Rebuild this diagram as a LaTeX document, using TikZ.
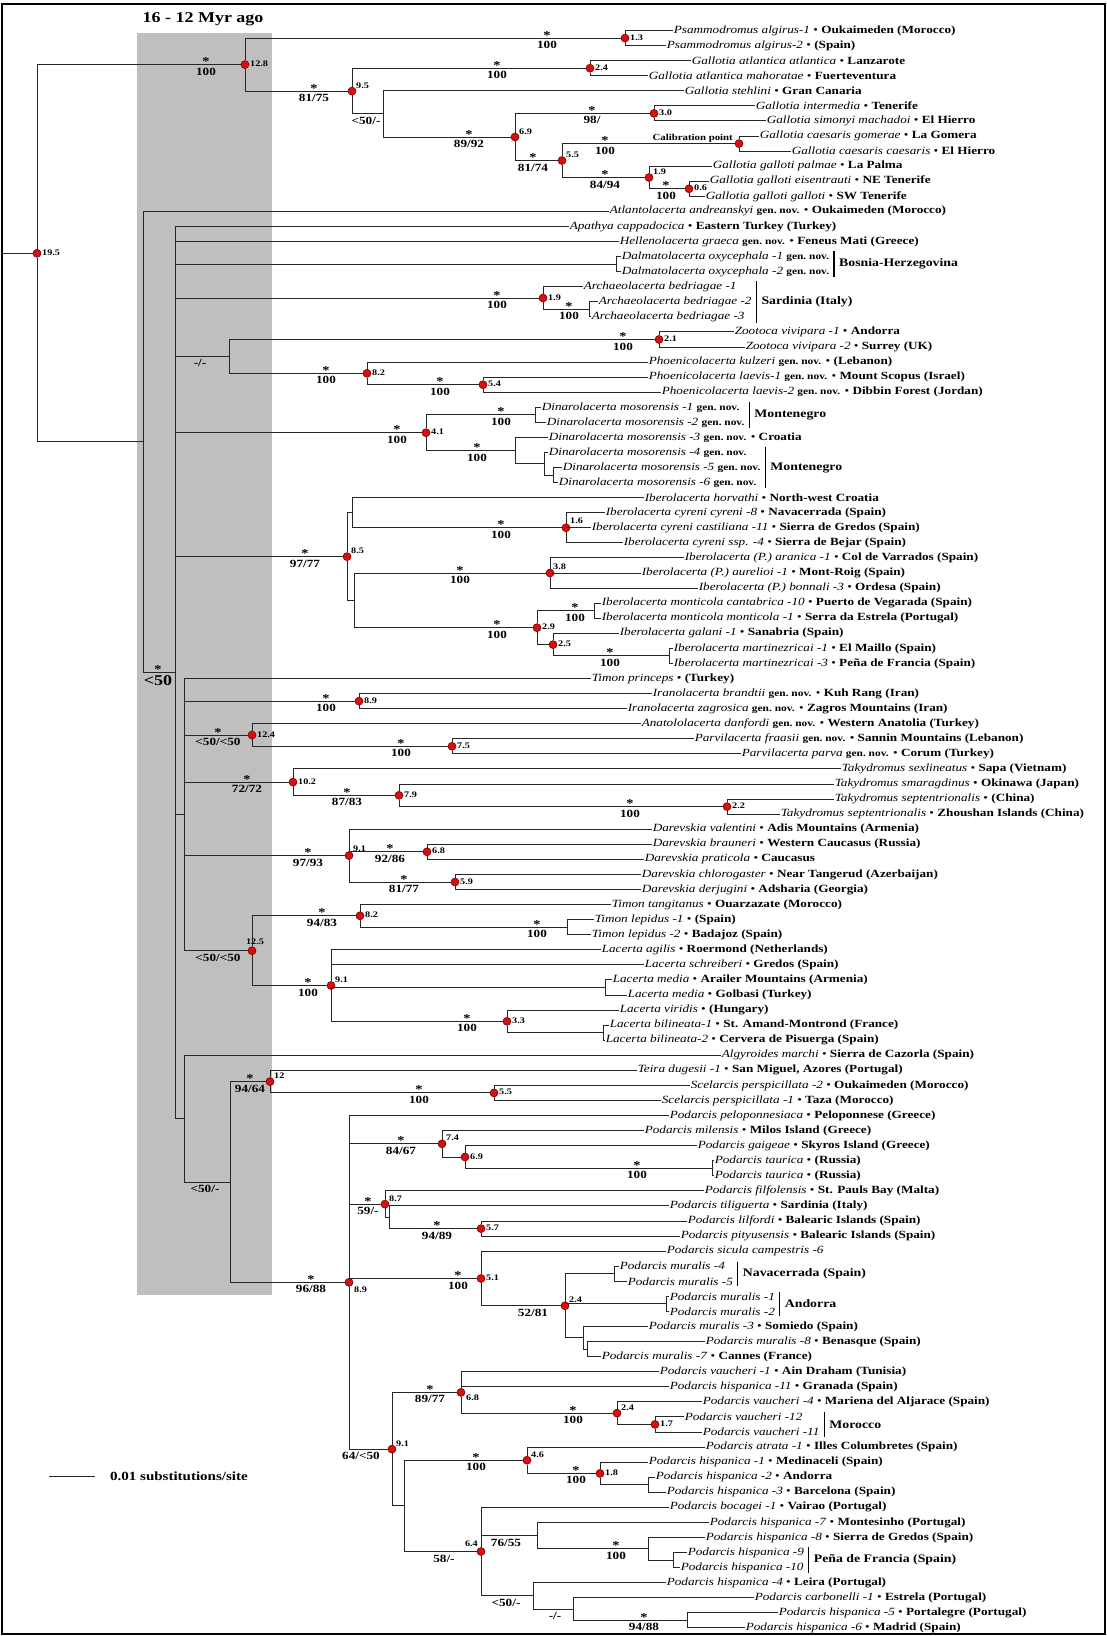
\documentclass[tikz,border=0pt]{standalone}
\usepackage{fontspec}
\setmainfont{Liberation Serif}[FakeStretch=1.2]
\usetikzlibrary{calc}

\newcommand{\tx}[1]{\textit{#1}}
\newcommand{\site}[1]{\textbf{#1}}
\newcommand{\bul}{\textbullet}
\newcommand{\gn}{{\bfseries\fontsize{9.5}{9.5}\selectfont gen.\ nov.}}
% support values: * above the branch, bootstrap below
\newcommand{\bsup}[5]{%
  \node[supa] (#1u) at (#2,#3+1) {#4};
  \node[supb] (#1d) at (#2,#3+3) {#5};}
% node age next to the red dot
\newcommand{\age}[4][5,2]{\node[age] (#2) at ($(#3)+(#1)$) {#4};}
% location bracket for a group of tips
\newcommand{\grp}[5]{%
  \coordinate (#1t) at ($(#2.east |- #3.north)+(4,0)$);
  \coordinate (#1b) at (#1t |- #4.south);
  \draw[grpbar] (#1t) -- (#1b);
  \node[locn] (#1) at ($(#1t)!0.5!(#1b)+(5,0)$) {#5};}

\tikzset{
  br/.style={draw=black!85, line width=1pt},
  dot/.style={circle, inner sep=0pt, minimum size=8pt, fill={rgb,255:red,214;green,16;blue,16}, draw={rgb,255:red,120;green,0;blue,0}, line width=0.6pt},
  leaf/.style={anchor=west, inner sep=0.6pt, font=\fontsize{11}{11}\selectfont},
  age/.style={anchor=base west, inner sep=0pt, font=\bfseries\fontsize{8.5}{8.5}\selectfont},
  supa/.style={anchor=base, inner sep=0pt, font=\bfseries\fontsize{12}{12}\selectfont},
  supb/.style={anchor=north, inner sep=0pt, font=\bfseries\fontsize{11}{11}\selectfont},
  locn/.style={anchor=west, inner sep=0pt, font=\bfseries\fontsize{11.5}{11.5}\selectfont},
  grpbar/.style={draw=black, line width=1.2pt},
}

\begin{document}
\begin{tikzpicture}[x=1pt,y=1pt,yscale=-1,xscale=1]
\useasboundingbox (0,0) rectangle (1107,1636);

%Shaded band 16 - 12 Myr
\fill[black!25] (137,33) rectangle (272,1295);
\node[inner sep=0pt, font=\bfseries\fontsize{15}{15}\selectfont] (band) at (203,19) {16 - 12 Myr ago};

%Frame
\draw[line width=2pt] (2,4) rectangle (1105,1634);

%Internal nodes: Psammodromus and Gallotia
\coordinate (rin) at (2,253.3);
\node[dot] (root) at (37,253.3) {};
\node[dot] (n128) at (245,64.6) {};
\node[dot] (psam) at (625,38.1) {};
\node[dot] (gall) at (352,91.1) {};
\node[dot] (atl) at (590,68.2) {};
\coordinate (g50) at (383,113.9);
\node[dot] (n69) at (515,137.0) {};
\node[dot] (n30) at (654,113.4) {};
\node[dot] (n55) at (562,160.5) {};
\node[dot] (cal) at (739,143.6) {};
\node[dot] (n19g) at (649,177.5) {};
\node[dot] (n06) at (689,188.8) {};

%Internal nodes: Atlantolacerta to Iberolacerta
\coordinate (X) at (143,441.9);
\coordinate (A) at (175,672.5);
\coordinate (dalm) at (616,264.1);
\node[dot] (arch) at (543,298.0) {};
\coordinate (arch2) at (589,309.3);
\coordinate (dash) at (229,356.4);
\node[dot] (zoot) at (659,339.5) {};
\node[dot] (n82) at (367,373.3) {};
\node[dot] (n54) at (483,384.7) {};
\node[dot] (n41) at (426,432.7) {};
\coordinate (dina12) at (535,414.8);
\coordinate (dina3) at (515,450.6);
\coordinate (dina46) at (544,463.8);
\coordinate (dina56) at (553,475.1);
\node[dot] (n85) at (347,556.6) {};
\coordinate (ibU) at (352,512.8);
\node[dot] (n16) at (566,527.8) {};
\coordinate (ibL) at (354,600.4);
\node[dot] (n38) at (550,573.0) {};
\node[dot] (n29) at (537,627.7) {};
\coordinate (mont) at (594,610.7);
\node[dot] (n25) at (553,644.6) {};
\coordinate (mart) at (669,655.9);

%Internal nodes: Timon to Lacerta
\coordinate (C) at (184,814.6);
\node[dot] (iran) at (359,701.1) {};
\node[dot] (n124) at (252,735.0) {};
\node[dot] (n75) at (452,746.3) {};
\node[dot] (n102) at (293,782.1) {};
\node[dot] (n79) at (399,795.3) {};
\node[dot] (n22) at (727,806.6) {};
\node[dot] (dar) at (349,855.6) {};
\node[dot] (n68) at (427,851.8) {};
\node[dot] (n59) at (455,882.0) {};
\node[dot] (n125) at (252,950.7) {};
\node[dot] (tim) at (360,915.8) {};
\coordinate (lep) at (567,927.2);
\node[dot] (lac) at (331,985.5) {};
\coordinate (med) at (605,987.5);
\node[dot] (n33) at (507,1021.3) {};
\coordinate (bil) at (603,1032.7);

%Internal nodes: Algyroides to Podarcis
\coordinate (D) at (184,1118.6);
\coordinate (E) at (230,1182.0);
\node[dot] (n12) at (270,1081.6) {};
\node[dot] (n55s) at (494,1092.9) {};
\node[dot] (n89) at (349,1282.3) {};
\node[dot] (n74) at (442,1143.8) {};
\node[dot] (n69p) at (465,1157.0) {};
\coordinate (taur) at (712,1168.3);
\node[dot] (n87) at (385,1204.1) {};
\coordinate (Q) at (389,1217.2);
\node[dot] (n57) at (481,1228.6) {};
\node[dot] (n51) at (481,1278.5) {};
\node[dot] (n24m) at (565,1305.8) {};
\coordinate (m45) at (614,1273.8);
\coordinate (m12) at (666,1303.9);
\coordinate (m3) at (583,1337.8);
\coordinate (m87) at (587,1349.0);
\node[dot] (n91p) at (392,1449.1) {};
\node[dot] (n68p) at (461,1392.4) {};
\node[dot] (n24v) at (617,1413.1) {};
\node[dot] (n17) at (655,1424.4) {};
\coordinate (R) at (404,1505.9);
\node[dot] (n46) at (527,1460.2) {};
\node[dot] (n18) at (600,1473.4) {};
\coordinate (h23) at (648,1484.7);
\node[dot] (n64) at (481,1551.5) {};
\coordinate (S) at (537,1535.5);
\coordinate (h8) at (648,1548.7);
\coordinate (h910) at (673,1560.0);
\coordinate (T) at (533,1595.8);
\coordinate (U) at (573,1609.0);
\coordinate (h56) at (687,1620.3);

%Tips
\node[leaf] (l1) at (673,30.5) {\tx{Psammodromus algirus-1} \bul{} \site{Oukaimeden (Morocco)}};
\node[leaf] (l2) at (666,45.6) {\tx{Psammodromus algirus-2} \bul{} \site{(Spain)}};
\node[leaf] (l3) at (691,60.6) {\tx{Gallotia atlantica atlantica} \bul{} \site{Lanzarote}};
\node[leaf] (l4) at (648,75.7) {\tx{Gallotia atlantica mahoratae} \bul{} \site{Fuerteventura}};
\node[leaf] (l5) at (684,90.8) {\tx{Gallotia stehlini} \bul{} \site{Gran Canaria}};
\node[leaf] (l6) at (755,105.9) {\tx{Gallotia intermedia} \bul{} \site{Tenerife}};
\node[leaf] (l7) at (766,120.9) {\tx{Gallotia simonyi machadoi} \bul{} \site{El Hierro}};
\node[leaf] (l8) at (759,136.0) {\tx{Gallotia caesaris gomerae} \bul{} \site{La Gomera}};
\node[leaf] (l9) at (791,151.1) {\tx{Gallotia caesaris caesaris} \bul{} \site{El Hierro}};
\node[leaf] (l10) at (712,166.1) {\tx{Gallotia galloti palmae} \bul{} \site{La Palma}};
\node[leaf] (l11) at (709,181.2) {\tx{Gallotia galloti eisentrauti} \bul{} \site{NE Tenerife}};
\node[leaf] (l12) at (705,196.3) {\tx{Gallotia galloti galloti} \bul{} \site{SW Tenerife}};
\node[leaf] (l13) at (609,211.3) {\tx{Atlantolacerta andreanskyi} \gn{} \bul{} \site{Oukaimeden (Morocco)}};
\node[leaf] (l14) at (569,226.4) {\tx{Apathya cappadocica} \bul{} \site{Eastern Turkey (Turkey)}};
\node[leaf] (l15) at (619,241.5) {\tx{Hellenolacerta graeca} \gn{} \bul{} \site{Feneus Mati (Greece)}};
\node[leaf] (l16) at (621,256.6) {\tx{Dalmatolacerta oxycephala -1} \gn};
\node[leaf] (l17) at (621,271.6) {\tx{Dalmatolacerta oxycephala -2} \gn};
\node[leaf] (l18) at (583,286.7) {\tx{Archaeolacerta bedriagae -1}};
\node[leaf] (l19) at (598,301.8) {\tx{Archaeolacerta bedriagae -2}};
\node[leaf] (l20) at (591,316.8) {\tx{Archaeolacerta bedriagae -3}};
\node[leaf] (l21) at (734,331.9) {\tx{Zootoca vivipara -1} \bul{} \site{Andorra}};
\node[leaf] (l22) at (745,347.0) {\tx{Zootoca vivipara -2} \bul{} \site{Surrey (UK)}};
\node[leaf] (l23) at (648,362.0) {\tx{Phoenicolacerta kulzeri} \gn{} \bul{} \site{(Lebanon)}};
\node[leaf] (l24) at (648,377.1) {\tx{Phoenicolacerta laevis-1} \gn{} \bul{} \site{Mount Scopus (Israel)}};
\node[leaf] (l25) at (661,392.2) {\tx{Phoenicolacerta laevis-2} \gn{} \bul{} \site{Dibbin Forest (Jordan)}};
\node[leaf] (l26) at (541,407.3) {\tx{Dinarolacerta mosorensis -1} \gn};
\node[leaf] (l27) at (546,422.3) {\tx{Dinarolacerta mosorensis -2} \gn};
\node[leaf] (l28) at (548,437.4) {\tx{Dinarolacerta mosorensis -3} \gn{} \bul{} \site{Croatia}};
\node[leaf] (l29) at (548,452.5) {\tx{Dinarolacerta mosorensis -4} \gn};
\node[leaf] (l30) at (562,467.5) {\tx{Dinarolacerta mosorensis -5} \gn};
\node[leaf] (l31) at (558,482.6) {\tx{Dinarolacerta mosorensis -6} \gn};
\node[leaf] (l32) at (644,497.7) {\tx{Iberolacerta horvathi} \bul{} \site{North-west Croatia}};
\node[leaf] (l33) at (605,512.7) {\tx{Iberolacerta cyreni cyreni -8} \bul{} \site{Navacerrada (Spain)}};
\node[leaf] (l34) at (591,527.8) {\tx{Iberolacerta cyreni castiliana -11} \bul{} \site{Sierra de Gredos (Spain)}};
\node[leaf] (l35) at (623,542.9) {\tx{Iberolacerta cyreni ssp. -4} \bul{} \site{Sierra de Bejar (Spain)}};
\node[leaf] (l36) at (684,557.9) {\tx{Iberolacerta (P.) aranica -1} \bul{} \site{Col de Varrados (Spain)}};
\node[leaf] (l37) at (641,573.0) {\tx{Iberolacerta (P.) aurelioi -1} \bul{} \site{Mont-Roig (Spain)}};
\node[leaf] (l38) at (698,588.1) {\tx{Iberolacerta (P.) bonnali -3} \bul{} \site{Ordesa (Spain)}};
\node[leaf] (l39) at (601,603.2) {\tx{Iberolacerta monticola cantabrica -10} \bul{} \site{Puerto de Vegarada (Spain)}};
\node[leaf] (l40) at (601,618.2) {\tx{Iberolacerta monticola monticola -1} \bul{} \site{Serra da Estrela (Portugal)}};
\node[leaf] (l41) at (619,633.3) {\tx{Iberolacerta galani -1} \bul{} \site{Sanabria (Spain)}};
\node[leaf] (l42) at (673,648.4) {\tx{Iberolacerta martinezricai -1} \bul{} \site{El Maillo (Spain)}};
\node[leaf] (l43) at (673,663.4) {\tx{Iberolacerta martinezricai -3} \bul{} \site{Peña de Francia (Spain)}};
\node[leaf] (l44) at (591,678.5) {\tx{Timon princeps} \bul{} \site{(Turkey)}};
\node[leaf] (l45) at (652,693.6) {\tx{Iranolacerta brandtii} \gn{} \bul{} \site{Kuh Rang (Iran)}};
\node[leaf] (l46) at (627,708.6) {\tx{Iranolacerta zagrosica} \gn{} \bul{} \site{Zagros Mountains (Iran)}};
\node[leaf] (l47) at (641,723.7) {\tx{Anatololacerta danfordi} \gn{} \bul{} \site{Western Anatolia (Turkey)}};
\node[leaf] (l48) at (694,738.8) {\tx{Parvilacerta fraasii} \gn{} \bul{} \site{Sannin Mountains (Lebanon)}};
\node[leaf] (l49) at (741,753.8) {\tx{Parvilacerta parva} \gn{} \bul{} \site{Corum (Turkey)}};
\node[leaf] (l50) at (841,768.9) {\tx{Takydromus sexlineatus} \bul{} \site{Sapa (Vietnam)}};
\node[leaf] (l51) at (834,784.0) {\tx{Takydromus smaragdinus} \bul{} \site{Okinawa (Japan)}};
\node[leaf] (l52) at (834,799.1) {\tx{Takydromus septentrionalis} \bul{} \site{(China)}};
\node[leaf] (l53) at (780,814.1) {\tx{Takydromus septentrionalis} \bul{} \site{Zhoushan Islands (China)}};
\node[leaf] (l54) at (652,829.2) {\tx{Darevskia valentini} \bul{} \site{Adis Mountains (Armenia)}};
\node[leaf] (l55) at (652,844.3) {\tx{Darevskia brauneri} \bul{} \site{Western Caucasus (Russia)}};
\node[leaf] (l56) at (644,859.3) {\tx{Darevskia praticola} \bul{} \site{Caucasus}};
\node[leaf] (l57) at (641,874.4) {\tx{Darevskia chlorogaster} \bul{} \site{Near Tangerud (Azerbaijan)}};
\node[leaf] (l58) at (641,889.5) {\tx{Darevskia derjugini} \bul{} \site{Adsharia (Georgia)}};
\node[leaf] (l59) at (611,904.5) {\tx{Timon tangitanus} \bul{} \site{Ouarzazate (Morocco)}};
\node[leaf] (l60) at (594,919.6) {\tx{Timon lepidus -1} \bul{} \site{(Spain)}};
\node[leaf] (l61) at (591,934.7) {\tx{Timon lepidus -2} \bul{} \site{Badajoz (Spain)}};
\node[leaf] (l62) at (601,949.7) {\tx{Lacerta agilis} \bul{} \site{Roermond (Netherlands)}};
\node[leaf] (l63) at (644,964.8) {\tx{Lacerta schreiberi} \bul{} \site{Gredos (Spain)}};
\node[leaf] (l64) at (612,979.9) {\tx{Lacerta media} \bul{} \site{Arailer Mountains (Armenia)}};
\node[leaf] (l65) at (627,995.0) {\tx{Lacerta media} \bul{} \site{Golbasi (Turkey)}};
\node[leaf] (l66) at (619,1010.0) {\tx{Lacerta viridis} \bul{} \site{(Hungary)}};
\node[leaf] (l67) at (609,1025.1) {\tx{Lacerta bilineata-1} \bul{} \site{St. Amand-Montrond (France)}};
\node[leaf] (l68) at (605,1040.2) {\tx{Lacerta bilineata-2} \bul{} \site{Cervera de Pisuerga (Spain)}};
\node[leaf] (l69) at (721,1055.2) {\tx{Algyroides marchi} \bul{} \site{Sierra de Cazorla (Spain)}};
\node[leaf] (l70) at (637,1070.3) {\tx{Teira dugesii -1} \bul{} \site{San Miguel, Azores (Portugal)}};
\node[leaf] (l71) at (690,1085.4) {\tx{Scelarcis perspicillata -2} \bul{} \site{Oukaimeden (Morocco)}};
\node[leaf] (l72) at (661,1100.4) {\tx{Scelarcis perspicillata -1} \bul{} \site{Taza (Morocco)}};
\node[leaf] (l73) at (669,1115.5) {\tx{Podarcis peloponnesiaca} \bul{} \site{Peloponnese (Greece)}};
\node[leaf] (l74) at (644,1130.6) {\tx{Podarcis milensis} \bul{} \site{Milos Island (Greece)}};
\node[leaf] (l75) at (697,1145.6) {\tx{Podarcis gaigeae} \bul{} \site{Skyros Island (Greece)}};
\node[leaf] (l76) at (714,1160.7) {\tx{Podarcis taurica} \bul{} \site{(Russia)}};
\node[leaf] (l77) at (714,1175.8) {\tx{Podarcis taurica} \bul{} \site{(Russia)}};
\node[leaf] (l78) at (704,1190.9) {\tx{Podarcis filfolensis} \bul{} \site{St. Pauls Bay (Malta)}};
\node[leaf] (l79) at (669,1205.9) {\tx{Podarcis tiliguerta} \bul{} \site{Sardinia (Italy)}};
\node[leaf] (l80) at (687,1221.0) {\tx{Podarcis lilfordi} \bul{} \site{Balearic Islands (Spain)}};
\node[leaf] (l81) at (680,1236.1) {\tx{Podarcis pityusensis} \bul{} \site{Balearic Islands (Spain)}};
\node[leaf] (l82) at (666,1251.1) {\tx{Podarcis sicula campestris -6}};
\node[leaf] (l83) at (619,1266.2) {\tx{Podarcis muralis -4}};
\node[leaf] (l84) at (627,1281.3) {\tx{Podarcis muralis -5}};
\node[leaf] (l85) at (669,1296.3) {\tx{Podarcis muralis -1}};
\node[leaf] (l86) at (669,1311.4) {\tx{Podarcis muralis -2}};
\node[leaf] (l87) at (648,1326.5) {\tx{Podarcis muralis -3} \bul{} \site{Somiedo (Spain)}};
\node[leaf] (l88) at (705,1341.5) {\tx{Podarcis muralis -8} \bul{} \site{Benasque (Spain)}};
\node[leaf] (l89) at (601,1356.6) {\tx{Podarcis muralis -7} \bul{} \site{Cannes (France)}};
\node[leaf] (l90) at (659,1371.7) {\tx{Podarcis vaucheri -1} \bul{} \site{Ain Draham (Tunisia)}};
\node[leaf] (l91) at (669,1386.7) {\tx{Podarcis hispanica -11} \bul{} \site{Granada (Spain)}};
\node[leaf] (l92) at (702,1401.8) {\tx{Podarcis vaucheri -4} \bul{} \site{Mariena del Aljarace (Spain)}};
\node[leaf] (l93) at (684,1416.9) {\tx{Podarcis vaucheri -12}};
\node[leaf] (l94) at (702,1432.0) {\tx{Podarcis vaucheri -11}};
\node[leaf] (l95) at (705,1447.0) {\tx{Podarcis atrata -1} \bul{} \site{Illes Columbretes (Spain)}};
\node[leaf] (l96) at (648,1462.1) {\tx{Podarcis hispanica -1} \bul{} \site{Medinaceli (Spain)}};
\node[leaf] (l97) at (655,1477.2) {\tx{Podarcis hispanica -2} \bul{} \site{Andorra}};
\node[leaf] (l98) at (666,1492.2) {\tx{Podarcis hispanica -3} \bul{} \site{Barcelona (Spain)}};
\node[leaf] (l99) at (669,1507.3) {\tx{Podarcis bocagei -1} \bul{} \site{Vairao (Portugal)}};
\node[leaf] (l100) at (709,1522.4) {\tx{Podarcis hispanica -7} \bul{} \site{Montesinho (Portugal)}};
\node[leaf] (l101) at (705,1537.4) {\tx{Podarcis hispanica -8} \bul{} \site{Sierra de Gredos (Spain)}};
\node[leaf] (l102) at (687,1552.5) {\tx{Podarcis hispanica -9}};
\node[leaf] (l103) at (680,1567.6) {\tx{Podarcis hispanica -10}};
\node[leaf] (l104) at (666,1582.6) {\tx{Podarcis hispanica -4} \bul{} \site{Leira (Portugal)}};
\node[leaf] (l105) at (754,1597.7) {\tx{Podarcis carbonelli -1} \bul{} \site{Estrela (Portugal)}};
\node[leaf] (l106) at (778,1612.8) {\tx{Podarcis hispanica -5} \bul{} \site{Portalegre (Portugal)}};
\node[leaf] (l107) at (745,1627.8) {\tx{Podarcis hispanica -6} \bul{} \site{Madrid (Spain)}};

%Location brackets
\grp{bosn}{l16}{l16}{l17}{Bosnia-Herzegovina}
\grp{sard}{l19}{l18}{l20}{Sardinia (Italy)}
\grp{mont1}{l27}{l26}{l27}{Montenegro}
\grp{mont2}{l30}{l29}{l31}{Montenegro}
\grp{nava}{l84}{l83}{l84}{Navacerrada (Spain)}
\grp{ando}{l85}{l85}{l86}{Andorra}
\grp{moro}{l94}{l93}{l94}{Morocco}
\grp{pena}{l102}{l102}{l103}{Peña de Francia (Spain)}

%Branches
\draw[br] (rin) -- (root);
\draw[br] (root) |- (n128) (root) |- (X);
\draw[br] (n128) |- (psam) (n128) |- (gall);
\draw[br] (psam) |- (l1) (psam) |- (l2);
\draw[br] (gall) |- (atl) (gall) |- (g50);
\draw[br] (atl) |- (l3) (atl) |- (l4);
\draw[br] (g50) |- (l5) (g50) |- (n69);
\draw[br] (n69) |- (n30) (n69) |- (n55);
\draw[br] (n30) |- (l6) (n30) |- (l7);
\draw[br] (n55) |- (cal) (n55) |- (n19g);
\draw[br] (cal) |- (l8) (cal) |- (l9);
\draw[br] (n19g) |- (l10) (n19g) |- (n06);
\draw[br] (n06) |- (l11) (n06) |- (l12);
\draw[br] (X) |- (l13) (X) |- (A);
\draw[br] (A) |- (l14) (A) |- (l15) (A) |- (dalm) (A) |- (arch) (A) |- (dash)
  (A) |- (n41) (A) |- (n85) (A) |- (C) (A) |- (D);
\draw[br] (dalm) |- (l16) (dalm) |- (l17);
\draw[br] (arch) |- (l18) (arch) |- (arch2);
\draw[br] (arch2) |- (l19) (arch2) |- (l20);
\draw[br] (dash) |- (zoot) (dash) |- (n82);
\draw[br] (zoot) |- (l21) (zoot) |- (l22);
\draw[br] (n82) |- (l23) (n82) |- (n54);
\draw[br] (n54) |- (l24) (n54) |- (l25);
\draw[br] (n41) |- (dina12) (n41) |- (dina3);
\draw[br] (dina12) |- (l26) (dina12) |- (l27);
\draw[br] (dina3) |- (l28) (dina3) |- (dina46);
\draw[br] (dina46) |- (l29) (dina46) |- (dina56);
\draw[br] (dina56) |- (l30) (dina56) |- (l31);
\draw[br] (n85) |- (ibU) (n85) |- (ibL);
\draw[br] (ibU) |- (l32) (ibU) |- (n16);
\draw[br] (n16) |- (l33) (n16) |- (l34) (n16) |- (l35);
\draw[br] (ibL) |- (n38) (ibL) |- (n29);
\draw[br] (n38) |- (l36) (n38) |- (l37) (n38) |- (l38);
\draw[br] (n29) |- (mont) (n29) |- (n25);
\draw[br] (mont) |- (l39) (mont) |- (l40);
\draw[br] (n25) |- (l41) (n25) |- (mart);
\draw[br] (mart) |- (l42) (mart) |- (l43);
\draw[br] (C) |- (l44) (C) |- (iran) (C) |- (n124) (C) |- (n102) (C) |- (dar) (C) |- (n125);
\draw[br] (iran) |- (l45) (iran) |- (l46);
\draw[br] (n124) |- (l47) (n124) |- (n75);
\draw[br] (n75) |- (l48) (n75) |- (l49);
\draw[br] (n102) |- (l50) (n102) |- (n79);
\draw[br] (n79) |- (l51) (n79) |- (n22);
\draw[br] (n22) |- (l52) (n22) |- (l53);
\draw[br] (dar) |- (l54) (dar) |- (n68) (dar) |- (n59);
\draw[br] (n68) |- (l55) (n68) |- (l56);
\draw[br] (n59) |- (l57) (n59) |- (l58);
\draw[br] (n125) |- (tim) (n125) |- (lac);
\draw[br] (tim) |- (l59) (tim) |- (lep);
\draw[br] (lep) |- (l60) (lep) |- (l61);
\draw[br] (lac) |- (l62) (lac) |- (l63) (lac) |- (med) (lac) |- (n33);
\draw[br] (med) |- (l64) (med) |- (l65);
\draw[br] (n33) |- (l66) (n33) |- (bil);
\draw[br] (bil) |- (l67) (bil) |- (l68);
\draw[br] (D) |- (l69) (D) |- (E);
\draw[br] (E) |- (n12) (E) |- (n89);
\draw[br] (n12) |- (l70) (n12) |- (n55s);
\draw[br] (n55s) |- (l71) (n55s) |- (l72);
\draw[br] (n89) |- (l73) (n89) |- (n74) (n89) |- (n87) (n89) |- (n51) (n89) |- (n91p);
\draw[br] (n74) |- (l74) (n74) |- (n69p);
\draw[br] (n69p) |- (l75) (n69p) |- (taur);
\draw[br] (taur) |- (l76) (taur) |- (l77);
\draw[br] (n87) |- (l78) (n87) |- (Q);
\draw[br] (Q) |- (l79) (Q) |- (n57);
\draw[br] (n57) |- (l80) (n57) |- (l81);
\draw[br] (n51) |- (l82) (n51) |- (n24m);
\draw[br] (n24m) |- (m45) (n24m) |- (m12) (n24m) |- (m3);
\draw[br] (m45) |- (l83) (m45) |- (l84);
\draw[br] (m12) |- (l85) (m12) |- (l86);
\draw[br] (m3) |- (l87) (m3) |- (m87);
\draw[br] (m87) |- (l88) (m87) |- (l89);
\draw[br] (n91p) |- (n68p) (n91p) |- (R);
\draw[br] (n68p) |- (l90) (n68p) |- (l91) (n68p) |- (n24v);
\draw[br] (n24v) |- (l92) (n24v) |- (n17);
\draw[br] (n17) |- (l93) (n17) |- (l94);
\draw[br] (R) |- (n46) (R) |- (n64);
\draw[br] (n46) |- (l95) (n46) |- (n18);
\draw[br] (n18) |- (l96) (n18) |- (h23);
\draw[br] (h23) |- (l97) (h23) |- (l98);
\draw[br] (n64) |- (l99) (n64) |- (S) (n64) |- (T);
\draw[br] (S) |- (l100) (S) |- (h8);
\draw[br] (h8) |- (l101) (h8) |- (h910);
\draw[br] (h910) |- (l102) (h910) |- (l103);
\draw[br] (T) |- (l104) (T) |- (U);
\draw[br] (U) |- (l105) (U) |- (h56);
\draw[br] (h56) |- (l106) (h56) |- (l107);

%Node ages
\age{a195}{root}{19.5}
\age{a128}{n128}{12.8}
\age{a13}{psam}{1.3}
\age[4,-3]{a95}{gall}{9.5}
\age{a24a}{atl}{2.4}
\age[4,-3]{a69}{n69}{6.9}
\age{a30}{n30}{3.0}
\age[4,-3]{a55}{n55}{5.5}
\age[4,-3]{a19g}{n19g}{1.9}
\age{a06}{n06}{0.6}
\age{a19a}{arch}{1.9}
\age{a21}{zoot}{2.1}
\age{a82}{n82}{8.2}
\age{a54}{n54}{5.4}
\age{a41}{n41}{4.1}
\age[4,-3]{a85}{n85}{8.5}
\age[4,-4]{a16}{n16}{1.6}
\age[3,-4]{a38}{n38}{3.8}
\age{a29}{n29}{2.9}
\age{a25}{n25}{2.5}
\age{a89i}{iran}{8.9}
\age{a124}{n124}{12.4}
\age{a75}{n75}{7.5}
\age{a102}{n102}{10.2}
\age{a79}{n79}{7.9}
\age{a22}{n22}{2.2}
\age[4,-4]{a91d}{dar}{9.1}
\age{a68}{n68}{6.8}
\age{a59}{n59}{5.9}
\age{a82t}{tim}{8.2}
\node[age, anchor=base] (a125) at ($(n125)+(3,-6)$) {12.5};
\age[4,-3]{a91l}{lac}{9.1}
\age{a33}{n33}{3.3}
\age[4,-3]{a12}{n12}{12}
\age{a55s}{n55s}{5.5}
\node[age, anchor=north west] (a89) at ($(n89)+(5,4)$) {8.9};
\age[4,-3]{a74}{n74}{7.4}
\age{a69p}{n69p}{6.9}
\age[4,-3]{a87}{n87}{8.7}
\age{a57}{n57}{5.7}
\age{a51}{n51}{5.1}
\age[4,-3]{a24m}{n24m}{2.4}
\age[4,-3]{a91p}{n91p}{9.1}
\age[5,8]{a68p}{n68p}{6.8}
\age[4,-3]{a24v}{n24v}{2.4}
\age{a17}{n17}{1.7}
\age[4,-3]{a46}{n46}{4.6}
\age{a18}{n18}{1.8}
\node[age, anchor=base east] (a64) at ($(n64)+(-3,-5)$) {6.4};
\node[age, anchor=base east, font=\bfseries\fontsize{9}{9}\selectfont] (calib) at ($(cal)+(-6,-3)$) {Calibration point};

%Support values
\bsup{n128}{206}{64.6}{*}{100}
\bsup{psam}{547}{38.1}{*}{100}
\bsup{gall}{314}{91.1}{*}{81/75}
\bsup{atl}{497}{68.2}{*}{100}
\node[supb] (g50d) at (366,116.9) {<50/-};
\bsup{n69}{469}{137.0}{*}{89/92}
\bsup{n30}{592}{113.4}{*}{98/}
\bsup{n55}{533}{160.5}{*}{81/74}
\bsup{cal}{605}{143.6}{*}{100}
\bsup{n19g}{605}{177.5}{*}{84/94}
\bsup{n06}{666}{188.8}{*}{100}
\bsup{arch}{497}{298.0}{*}{100}
\bsup{arch2}{569}{309.3}{*}{100}
\node[supb] (dashd) at (200,359.4) {-/-};
\bsup{zoot}{623}{339.5}{*}{100}
\bsup{n82}{326}{373.3}{*}{100}
\bsup{n54}{440}{384.7}{*}{100}
\bsup{n41}{397}{432.7}{*}{100}
\bsup{dina12}{501}{414.8}{*}{100}
\bsup{dina3}{477}{450.6}{*}{100}
\bsup{n85}{305}{556.6}{*}{97/77}
\bsup{n16}{501}{527.8}{*}{100}
\bsup{n38}{460}{573.0}{*}{100}
\bsup{mont}{575}{610.7}{*}{100}
\bsup{n29}{497}{627.7}{*}{100}
\bsup{mart}{610}{655.9}{*}{100}
\bsup{A}{158}{672.5}{*}{\fontsize{15}{15}\selectfont <50}
\bsup{iran}{326}{701.1}{*}{100}
\bsup{n124}{218}{735.0}{*}{<50/<50}
\bsup{n75}{401}{746.3}{*}{100}
\bsup{n102}{247}{782.1}{*}{72/72}
\bsup{n79}{347}{795.3}{*}{87/83}
\bsup{n22}{630}{806.6}{*}{100}
\bsup{dar}{308}{855.6}{*}{97/93}
\bsup{n68}{390}{851.8}{*}{92/86}
\bsup{n59}{404}{882.0}{*}{81/77}
\bsup{tim}{322}{915.8}{*}{94/83}
\bsup{lep}{537}{927.2}{*}{100}
\node[supb] (n125d) at (218,953.7) {<50/<50};
\bsup{lac}{308}{985.5}{*}{100}
\bsup{n33}{467}{1021.3}{*}{100}
\bsup{n12}{250}{1081.6}{*}{94/64}
\bsup{n55s}{419}{1092.9}{*}{100}
\node[supb] (Ed) at (205,1185.0) {<50/-};
\bsup{n89}{311}{1282.3}{*}{96/88}
\bsup{n74}{401}{1143.8}{*}{84/67}
\bsup{taur}{637}{1168.3}{*}{100}
\bsup{n87}{368}{1204.1}{*}{59/-}
\bsup{n57}{437}{1228.6}{*}{94/89}
\bsup{n51}{458}{1278.5}{*}{100}
\node[supb] (n24md) at (533,1308.8) {52/81};
\bsup{n68p}{430}{1392.4}{*}{89/77}
\bsup{n24v}{573}{1413.1}{*}{100}
\node[supb] (n91pd) at (361,1452.1) {64/<50};
\bsup{n46}{476}{1460.2}{*}{100}
\bsup{n18}{576}{1473.4}{*}{100}
\node[supb] (Rd) at (444,1554.5) {58/-};
\node[supb] (Sd) at (506,1538.5) {76/55};
\bsup{h8}{616}{1548.7}{*}{100}
\node[supb] (Td) at (506,1598.8) {<50/-};
\node[supb] (Ud) at (555,1612) {-/-};
\bsup{h56}{644}{1620.3}{*}{94/88}

%Scale bar
\coordinate (sc1) at (49,1476);
\coordinate (sc2) at (95,1476);
\draw[br] (sc1) -- (sc2);
\node[locn, font=\bfseries\fontsize{12.5}{12.5}\selectfont] (scl) at (110,1476) {0.01 substitutions/site};

\end{tikzpicture}
\end{document}
